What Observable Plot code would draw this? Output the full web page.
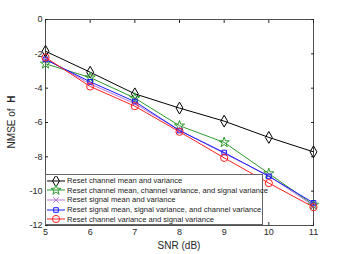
<!DOCTYPE html>
<html><head><meta charset="utf-8">
<script src="https://cdn.jsdelivr.net/npm/d3@7"></script>
<script src="https://cdn.jsdelivr.net/npm/@observablehq/plot@0.6"></script>
<style>
body{margin:0;background:#fff;font-family:"Liberation Sans",Arial,sans-serif;}
#wrap{position:relative;width:346px;height:254px;}
#legend{position:absolute;left:45px;top:174px;width:218px;height:51px;background:#fff;border:1px solid #666;box-sizing:border-box;font-size:7.6px;color:#222;padding-top:1px;}
#legend .row{display:flex;align-items:center;height:9.6px;white-space:nowrap;}
#legend svg{flex:none;}
</style>
</head><body>
<div id="wrap"><div id="chart"></div><div id="legend"></div></div>
<script>
const snr = [5, 6, 7, 8, 9, 10, 11];
const seriesNames = [
  "Reset channel mean and variance",
  "Reset channel mean, channel variance, and signal variance",
  "Reset signal mean and variance",
  "Reset signal mean, signal variance, and channel variance",
  "Reset channel variance and signal variance"
];
const blackDiamond = [-1.85, -3.07, -4.33, -5.16, -5.92, -6.87, -7.71];
const greenStar    = [-2.58, -3.38, -4.58, -6.19, -7.16, -8.97, -10.80];
const purpleX      = [-2.30, -3.75, -4.90, -6.45, -7.80, -9.10, -10.85];
const blueSquare   = [-2.33, -3.63, -4.78, -6.47, -7.75, -9.14, -10.68];
const redCircle    = [-2.21, -3.90, -5.05, -6.54, -8.06, -9.53, -10.93];
const colors  = ["#000000", "#2e9a2e", "#b07ad8", "#1a1aff", "#ff2020"];
const symbols = ["diamond", "star", "times", "square", "circle"];
const radii   = [3.6, 3.2, 2.6, 2.6, 3.6];
const xTicks = [5, 6, 7, 8, 9, 10, 11];
const yTicks = [0, -2, -4, -6, -8, -10, -12];

const allSeries = [blackDiamond, greenStar, purpleX, blueSquare, redCircle];
const data = [];
allSeries.forEach((vals, s) => vals.forEach((v, i) => data.push({x: snr[i], y: v, s})));

const marks = [];
allSeries.forEach((vals, s) => {
  const d = data.filter(p => p.s === s);
  marks.push(Plot.line(d, {x: "x", y: "y", stroke: colors[s], strokeWidth: 1}));
  marks.push(Plot.dot(d, {x: "x", y: "y", stroke: colors[s], fill: "none", symbol: () => symbols[s], r: radii[s], strokeWidth: 1}));
});

const chart = Plot.plot({
  width: 346, height: 254,
  marginLeft: 45, marginRight: 33, marginTop: 19, marginBottom: 29,
  style: {fontFamily: "Liberation Sans, Arial, sans-serif", fontSize: "9px", color: "#262626", background: "#fff"},
  x: {domain: [5, 11]},
  y: {domain: [-12, 0]},
  symbol: {type: "identity"},
  marks: [
    Plot.frame({stroke: "#262626", strokeWidth: 0.8}),
    Plot.axisX(xTicks, {anchor: "bottom", tickSize: -3, tickPadding: 6, label: null, fontSize: 9}),
    Plot.axisX(xTicks, {anchor: "top", tickSize: -3, tickFormat: () => "", label: null}),
    Plot.axisY(yTicks, {anchor: "left", tickSize: -3, tickPadding: 6, label: null, fontSize: 9, tickFormat: d => d === 0 ? "0" : String(d)}),
    Plot.axisY(yTicks, {anchor: "right", tickSize: -3, tickFormat: () => "", label: null}),
    ...marks
  ]
});
document.getElementById("chart").appendChild(chart);

const svg = d3.select(chart);
svg.append("text").attr("x", 179).attr("y", 249).attr("text-anchor", "middle")
  .attr("font-size", 10).attr("fill", "#262626").text("SNR (dB)");
const yl = svg.append("text").attr("transform", "translate(15,122) rotate(-90)")
  .attr("text-anchor", "middle").attr("font-size", 10).attr("fill", "#262626");
yl.append("tspan").text("NMSE of  ");
yl.append("tspan").attr("font-weight", "bold").text("H");

const legend = document.getElementById("legend");
seriesNames.forEach((name, s) => {
  const row = document.createElement("div");
  row.className = "row";
  const sym = d3.symbol(
    {diamond: d3.symbolDiamond, star: d3.symbolStar, times: d3.symbolTimes, square: d3.symbolSquare, circle: d3.symbolCircle}[symbols[s]],
    Math.PI * radii[s] * radii[s])();
  row.innerHTML = `<svg width="20" height="10"><line x1="1" x2="19" y1="5" y2="5" stroke="${colors[s]}" stroke-width="1"/><path transform="translate(10,5)" d="${sym}" fill="none" stroke="${colors[s]}"/></svg><span style="margin-left:1px">${name}</span>`;
  legend.appendChild(row);
});
</script>
</body></html>
